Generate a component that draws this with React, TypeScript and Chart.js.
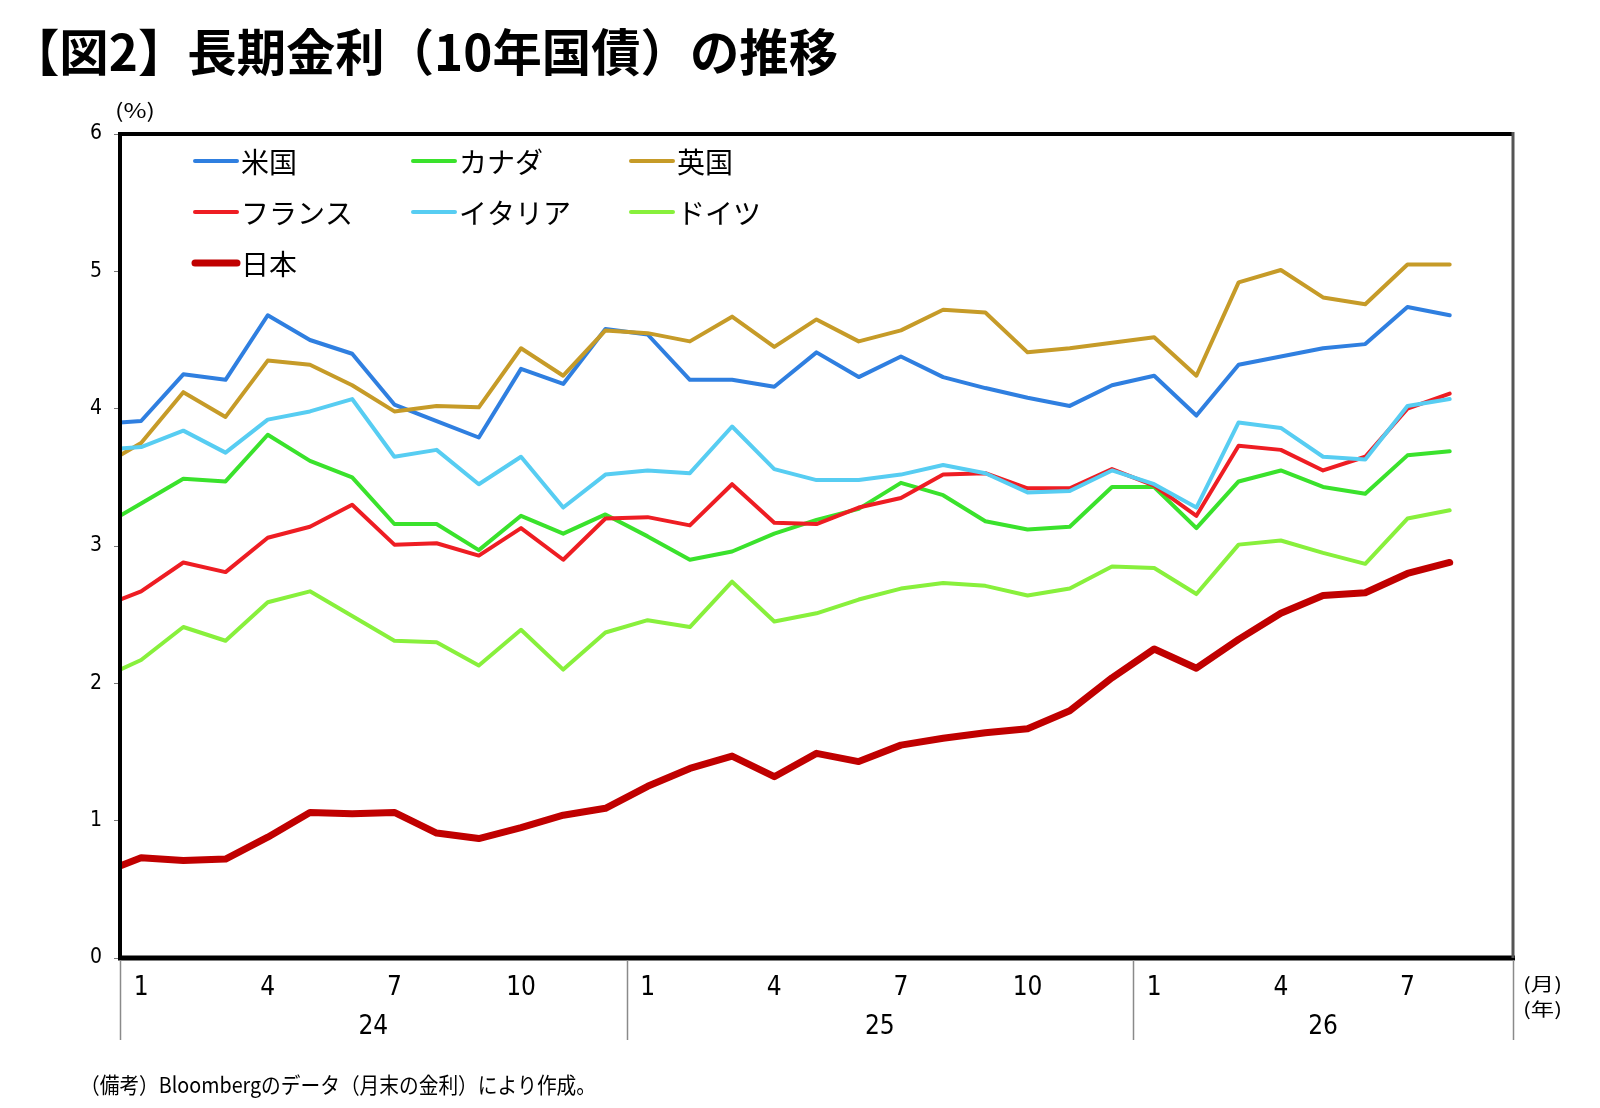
import React, { useEffect, useRef } from 'react';
import { Chart, registerables } from 'chart.js';

Chart.register(...registerables);

// month-end 10y yields (%), Dec 2023 start point then Jan 2024 .. Aug 2026
const months = [
  '2023-12',
  '2024-01', '2024-02', '2024-03', '2024-04', '2024-05', '2024-06',
  '2024-07', '2024-08', '2024-09', '2024-10', '2024-11', '2024-12',
  '2025-01', '2025-02', '2025-03', '2025-04', '2025-05', '2025-06',
  '2025-07', '2025-08', '2025-09', '2025-10', '2025-11', '2025-12',
  '2026-01', '2026-02', '2026-03', '2026-04', '2026-05', '2026-06',
  '2026-07', '2026-08',
];

const usYield = [3.90, 3.91, 4.25, 4.21, 4.68, 4.50, 4.40, 4.03, 3.91, 3.79, 4.29, 4.18, 4.58, 4.54, 4.21, 4.21, 4.16, 4.41, 4.23, 4.38, 4.23, 4.15, 4.08, 4.02, 4.17, 4.24, 3.95, 4.32, 4.38, 4.44, 4.47, 4.74, 4.68];
const canadaYield = [3.22, 3.31, 3.49, 3.47, 3.81, 3.62, 3.50, 3.16, 3.16, 2.97, 3.22, 3.09, 3.23, 3.07, 2.90, 2.96, 3.09, 3.19, 3.27, 3.46, 3.37, 3.18, 3.12, 3.14, 3.43, 3.43, 3.13, 3.47, 3.55, 3.43, 3.38, 3.66, 3.69];
const ukYield = [3.66, 3.75, 4.12, 3.94, 4.35, 4.32, 4.17, 3.98, 4.02, 4.01, 4.44, 4.24, 4.57, 4.55, 4.49, 4.67, 4.45, 4.65, 4.49, 4.57, 4.72, 4.70, 4.41, 4.44, 4.48, 4.52, 4.24, 4.92, 5.01, 4.81, 4.76, 5.05, 5.05];
const franceYield = [2.61, 2.67, 2.88, 2.81, 3.06, 3.14, 3.30, 3.01, 3.02, 2.93, 3.13, 2.90, 3.20, 3.21, 3.15, 3.45, 3.17, 3.16, 3.28, 3.35, 3.52, 3.53, 3.42, 3.42, 3.56, 3.44, 3.22, 3.73, 3.70, 3.55, 3.65, 4.00, 4.11];
const italyYield = [3.71, 3.72, 3.84, 3.68, 3.92, 3.98, 4.07, 3.65, 3.70, 3.45, 3.65, 3.28, 3.52, 3.55, 3.53, 3.87, 3.56, 3.48, 3.48, 3.52, 3.59, 3.53, 3.39, 3.40, 3.55, 3.45, 3.28, 3.90, 3.86, 3.65, 3.63, 4.02, 4.07];
const germanyYield = [2.10, 2.17, 2.41, 2.31, 2.59, 2.67, 2.49, 2.31, 2.30, 2.13, 2.39, 2.10, 2.37, 2.46, 2.41, 2.74, 2.45, 2.51, 2.61, 2.69, 2.73, 2.71, 2.64, 2.69, 2.85, 2.84, 2.65, 3.01, 3.04, 2.95, 2.87, 3.20, 3.26];
const japanYield = [0.67, 0.73, 0.71, 0.72, 0.88, 1.06, 1.05, 1.06, 0.91, 0.87, 0.95, 1.04, 1.09, 1.25, 1.38, 1.47, 1.32, 1.49, 1.43, 1.55, 1.60, 1.64, 1.67, 1.80, 2.04, 2.25, 2.11, 2.32, 2.51, 2.64, 2.66, 2.80, 2.88];

const tickMonths = [1, 4, 7, 10];
const yearLabels = ['24', '25', '26'];
const firstYear = 2024;
const axisMonths = 33; // Jan 2024 .. Sep 2026

const NARROW = "'Liberation Sans Narrow', 'DejaVu Sans Condensed', 'Noto Sans CJK JP', sans-serif";
const JP = "'Noto Sans CJK JP', sans-serif";

const series = [
  { label: '米国', data: usYield, color: '#2f7fe0', width: 4 },
  { label: 'カナダ', data: canadaYield, color: '#3ae22c', width: 4 },
  { label: '英国', data: ukYield, color: '#c69b28', width: 4 },
  { label: 'フランス', data: franceYield, color: '#ee1d23', width: 4 },
  { label: 'イタリア', data: italyYield, color: '#57cdf2', width: 4 },
  { label: 'ドイツ', data: germanyYield, color: '#88f03c', width: 4 },
  { label: '日本', data: japanYield, color: '#c00000', width: 7 },
];

// month index from Jan of firstYear; the Dec start value sits on the left edge
const monthPos = (m: string) => {
  const [y, mo] = m.split('-').map(Number);
  return Math.max(0, (y - firstYear) * 12 + mo - 1 + 0.5);
};

function fitText(ctx: CanvasRenderingContext2D, text: string, x: number, y: number, font: string, width: number) {
  ctx.save();
  ctx.font = font;
  const w = ctx.measureText(text).width;
  ctx.translate(x, y);
  ctx.scale(width / w, 1);
  ctx.textAlign = 'left';
  ctx.textBaseline = 'middle';
  ctx.fillStyle = '#000';
  ctx.fillText(text, 0, 0);
  ctx.restore();
}

const decorations = {
  id: 'decorations',
  afterDatasetsDraw(chart: any) {
    const { ctx, chartArea: a } = chart;
    ctx.save();
    ctx.lineCap = 'butt';
    ctx.strokeStyle = '#000';
    ctx.lineWidth = 4;
    ctx.beginPath();
    ctx.moveTo(a.left - 2, a.top);
    ctx.lineTo(a.right, a.top);
    ctx.moveTo(a.left, a.top);
    ctx.lineTo(a.left, a.bottom);
    ctx.stroke();
    ctx.lineWidth = 5;
    ctx.beginPath();
    ctx.moveTo(a.left - 2, a.bottom);
    ctx.lineTo(a.right + 2, a.bottom);
    ctx.stroke();
    ctx.strokeStyle = '#555';
    ctx.lineWidth = 3;
    ctx.beginPath();
    ctx.moveTo(a.right, a.top - 2);
    ctx.lineTo(a.right, a.bottom);
    ctx.stroke();
    ctx.restore();
  },
  afterDraw(chart: any) {
    const { ctx, chartArea: a } = chart;
    const x = chart.scales.x;

    // legend, 3 columns
    ctx.save();
    chart.data.datasets.forEach((ds: any, i: number) => {
      const lx = a.left + 75 + (i % 3) * 218;
      const ly = a.top + 27 + Math.floor(i / 3) * 51;
      ctx.strokeStyle = ds.borderColor;
      ctx.lineWidth = ds.borderWidth;
      ctx.lineCap = 'round';
      ctx.beginPath();
      ctx.moveTo(lx, ly);
      ctx.lineTo(lx + 42, ly);
      ctx.stroke();
      ctx.fillStyle = '#000';
      ctx.font = `28px ${JP}`;
      ctx.textBaseline = 'middle';
      ctx.fillText(ds.label, lx + 46, ly + 1);
    });
    ctx.restore();

    // year separators and labels
    ctx.save();
    ctx.strokeStyle = '#8a8a8a';
    ctx.lineWidth = 1.5;
    const bounds = yearLabels.map((_, i) => i * 12).concat([axisMonths]);
    bounds.forEach((b) => {
      const px = Math.round(x.getPixelForValue(b)) + 0.5;
      ctx.beginPath();
      ctx.moveTo(px, a.bottom + 2);
      ctx.lineTo(px, a.bottom + 82);
      ctx.stroke();
    });
    ctx.fillStyle = '#000';
    ctx.font = `26px ${NARROW}`;
    ctx.textAlign = 'center';
    ctx.textBaseline = 'middle';
    yearLabels.forEach((lab, i) => {
      const c = (bounds[i] + bounds[i + 1]) / 2;
      ctx.fillText(lab, x.getPixelForValue(c), a.bottom + 69);
    });
    ctx.restore();

    fitText(ctx, '【図2】長期金利（10年国債）の推移', 10, 52, `bold 50px ${JP}`, 828);
    fitText(ctx, '(%)', a.left - 5, a.top - 24, `20px ${JP}`, 40);
    fitText(ctx, '(月)', a.right + 10, a.bottom + 26, `18px ${JP}`, 39);
    fitText(ctx, '(年)', a.right + 10, a.bottom + 51, `18px ${JP}`, 39);
    fitText(ctx, '（備考）Bloombergのデータ（月末の金利）により作成。', 80, 1085, `22px ${JP}`, 516);
  },
};

const App = () => {
  const canvasRef = useRef<HTMLCanvasElement>(null);

  useEffect(() => {
    if (!canvasRef.current) return;

    const tickValues: number[] = [];
    for (let i = 0; i < axisMonths; i++) {
      if (tickMonths.includes((i % 12) + 1)) tickValues.push(i + 0.5);
    }

    const chart = new Chart(canvasRef.current, {
      type: 'line',
      data: {
        datasets: series.map((s, i) => ({
          label: s.label,
          data: s.data.map((v, k) => ({ x: monthPos(months[k]), y: v })),
          borderColor: s.color,
          backgroundColor: s.color,
          borderWidth: s.width,
          pointRadius: 0,
          borderJoinStyle: 'round',
          borderCapStyle: 'round',
          tension: 0,
          order: series.length - i,
        })),
      },
      options: {
        responsive: false,
        animation: false,
        layout: { padding: { left: 0, top: 134, right: 87, bottom: 0 } },
        plugins: {
          legend: { display: false },
          tooltip: { enabled: false },
        },
        scales: {
          x: {
            type: 'linear',
            min: 0,
            max: axisMonths,
            grid: { display: false, drawTicks: false },
            border: { display: false },
            afterBuildTicks: (s: any) => {
              s.ticks = tickValues.map((v) => ({ value: v }));
            },
            afterFit: (s: any) => {
              s.height = 150;
            },
            ticks: {
              autoSkip: false,
              maxRotation: 0,
              padding: 15,
              color: '#000',
              font: { family: NARROW, size: 26 },
              callback: (v: any) => String((Math.floor(v) % 12) + 1),
            },
          },
          y: {
            min: 0,
            max: 6,
            border: { display: false },
            grid: { drawOnChartArea: false, drawTicks: true, tickLength: 6, color: '#777', lineWidth: 1 },
            afterFit: (s: any) => {
              s.width = 120;
            },
            ticks: {
              stepSize: 1,
              padding: 12,
              color: '#000',
              font: { family: NARROW, size: 21 },
            },
          },
        },
      },
      plugins: [decorations],
    });

    return () => {
      chart.destroy();
    };
  }, []);

  return (
    <div style={{ position: 'absolute', left: 0, top: 0, width: 1600, height: 1108, background: '#fff' }}>
      <canvas ref={canvasRef} width={1600} height={1108} style={{ width: 1600, height: 1108 }} />
    </div>
  );
};

export default App;
